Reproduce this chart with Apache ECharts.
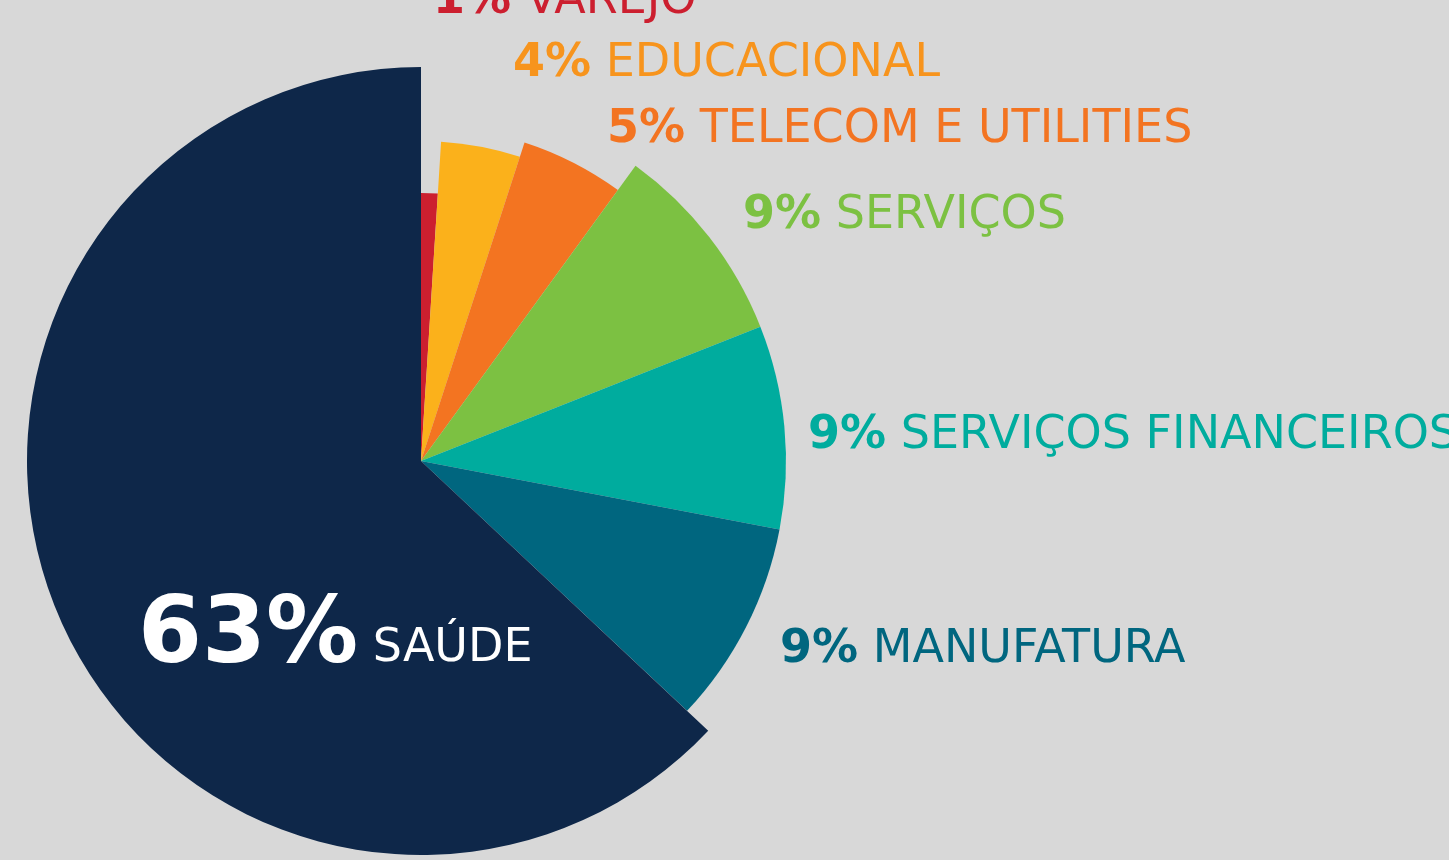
<!DOCTYPE html>
<html>
<head>
<meta charset="utf-8">
<script src="https://cdn.jsdelivr.net/npm/echarts@6/dist/echarts.min.js"></script>
<style>
  html, body { margin: 0; padding: 0; background: #d8d8d8; }
  #chart { width: 1449px; height: 860px; }
</style>
</head>
<body>
<div id="chart"></div>
<script>
// setores (ordem horária a partir do topo)
const categories = ['VAREJO', 'EDUCACIONAL', 'TELECOM E UTILITIES', 'SERVIÇOS', 'SERVIÇOS FINANCEIROS', 'MANUFATURA', 'SAÚDE'];
const values = [1, 4, 5, 9, 9, 9, 63];

// estilo de cada fatia
const sliceColors = ['#cc1f2f', '#fbb11b', '#f37421', '#7cc142', '#00ac9e', '#00667f', '#0e2749'];
const labelColors = ['#cc1f2f', '#f7941d', '#f37421', '#7cc142', '#00ac9e', '#00667f', '#ffffff'];
const sliceRadius = [268, 320, 335, 365, 365, 365, 394];
// canto esquerdo / base de cada rótulo
const labelPos = [[433, 24], [513, 87], [607, 153], [743, 239], [808, 459], [780, 673], [138, 684]];

const center = [421, 461];
const font = 'DejaVu Sans';

function makeSeries(k) {
  const big = k === 6;
  return {
    type: 'pie',
    silent: true,
    animation: false,
    center: center,
    radius: [0, sliceRadius[k]],
    startAngle: 90,
    clockwise: true,
    avoidLabelOverlap: false,
    labelLine: { show: false },
    itemStyle: { borderWidth: 0 },
    emphasis: { disabled: true },
    label: {
      show: true,
      position: 'inside',
      formatter: p => '{p|' + p.value + '%}{n| ' + p.name + '}',
      rich: {
        p: {
          fontFamily: font, fontWeight: 'bold', fontSize: big ? 92 : 46,
          color: labelColors[k], verticalAlign: 'bottom'
        },
        n: {
          fontFamily: font, fontWeight: 'normal', fontSize: 46,
          color: labelColors[k], verticalAlign: 'bottom',
          padding: big ? [0, 0, 12, 0] : 0
        }
      }
    },
    labelLayout: {
      x: labelPos[k][0],
      y: labelPos[k][1],
      align: 'left',
      verticalAlign: 'bottom'
    },
    data: categories.map((name, i) => ({
      name: name,
      value: values[i],
      itemStyle: { color: i === k ? sliceColors[k] : 'rgba(0,0,0,0)' },
      label: { show: i === k }
    }))
  };
}

const myChart = echarts.init(document.getElementById('chart'));
myChart.setOption({
  backgroundColor: '#d8d8d8',
  series: categories.map((c, k) => makeSeries(k))
});
</script>
</body>
</html>
